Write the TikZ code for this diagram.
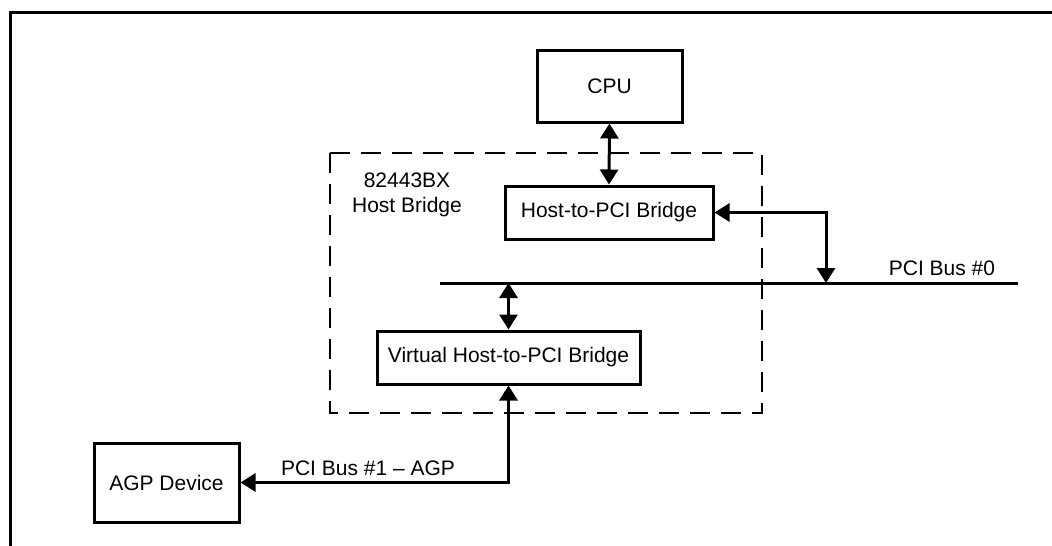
\documentclass[tikz,border=0pt]{standalone}
\usepackage{fontspec}
\setmainfont{Liberation Sans}
\usetikzlibrary{arrows.meta}

\tikzset{
  blockbox/.style={draw, line width=3pt, inner sep=0pt, font=\fontsize{21}{25}\selectfont},
  lbl/.style={inner sep=0pt, font=\fontsize{21}{25}\selectfont},
  darr/.style={line width=3pt, {Triangle[length=15pt,width=18pt]}-{Triangle[length=15pt,width=18pt]}}
}

\begin{document}
\begin{tikzpicture}[x=1pt,y=-1pt]
    \useasboundingbox (0,0) rectangle (1052,546);

    % frame
    \draw[line width=2.5pt] (1052,12.5) -- (10.5,12.5) -- (10.5,546);

    % chip boundary
    \draw[line width=2pt, dash pattern=on 20pt off 11pt] (330,153) rectangle (762,413);
    \node[lbl, align=center] (chip) at (407,195) {82443BX\\Host Bridge};

    % blocks
    \node[blockbox, minimum width=145pt, minimum height=72pt] (cpu) at (609.5,86) {CPU};
    \node[blockbox, minimum width=208pt, minimum height=53pt] (host) at (609,212.5) {Host-to-PCI Bridge};
    \node[blockbox, minimum width=263pt, minimum height=53pt] (vhost) at (508.5,357.5) {Virtual Host-to-PCI Bridge};
    \node[blockbox, minimum width=145pt, minimum height=79pt] (agp) at (166.5,482.5) {AGP Device};

    % PCI bus 0
    \coordinate (bus0w) at (440,283);
    \coordinate (bus0e) at (1018,283);
    \coordinate (tap0) at (826,283);
    \draw[line width=3pt] (bus0w) -- (bus0e);
    \node[lbl, anchor=south] (bus0lbl) at (942,276) {PCI Bus \#0};

    % connections
    \draw[darr] (cpu.south) -- (host.north);
    \draw[darr] (host.east) -| (tap0);
    \draw[darr] (vhost.north |- bus0w) -- (vhost.north);
    \draw[darr] (vhost.south) |- (agp.east);
    \node[lbl, anchor=south] (bus1lbl) at (368,476) {PCI Bus \#1 -- AGP};
\end{tikzpicture}
\end{document}
